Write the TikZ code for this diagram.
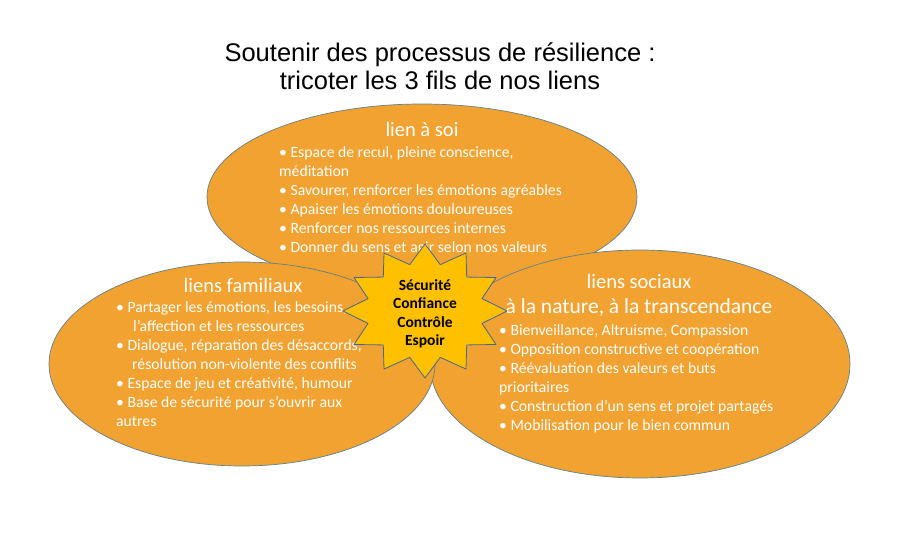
\documentclass[tikz,border=0pt]{standalone}
\usepackage{fontspec}
\setmainfont{Carlito}[BoldFont={Carlito Bold}]
\newfontfamily\titlefont{Liberation Sans}
\usetikzlibrary{calc}
\definecolor{orangefill}{RGB}{241,162,48}
\definecolor{orangeline}{RGB}{96,128,140}
\definecolor{sealfill}{RGB}{255,192,0}
\definecolor{sealline}{RGB}{68,104,150}
\tikzset{o/.style={fill=orangefill,draw=orangeline,line width=.7pt}}
\tikzset{seal/.style={fill=sealfill,draw=sealline,line width=.8pt}}
\tikzset{ttl/.style={font=\titlefont\fontsize{25.5}{28}\selectfont,align=center,anchor=base,inner sep=0}}
\tikzset{h/.style={text=white,font=\fontsize{20.5}{20}\selectfont,anchor=base,inner sep=0}}
% base west = baseline of the last line
\tikzset{b/.style={text=white,font=\fontsize{15.7}{19}\selectfont,align=left,anchor=base west,inner sep=0}}
\tikzset{c/.style={font=\bfseries\fontsize{15.5}{18.5}\selectfont,align=center,inner sep=0}}

\begin{document}
\begin{tikzpicture}[x=1pt,y=-1pt,line join=round]
\useasboundingbox[fill=white] (0,0) rectangle (900,534);
% titre
\node[ttl] (titre) at (440,90) {Soutenir des processus de résilience :\\tricoter les 3 fils de nos liens};
% lien a soi
\filldraw[o] (422,197) ellipse (215 and 93);
\node[h] (soi) at (422,137) {lien à soi};
\node[b] (soitxt) at (279,253) {• Espace de recul, pleine conscience,\\méditation\\• Savourer, renforcer les émotions agréables\\• Apaiser les émotions douloureuses\\• Renforcer nos ressources internes\\• Donner du sens et agir selon nos valeurs};
% liens sociaux
\filldraw[o] (640,364) ellipse (210 and 114);
\node[h] (soc) at (639,289) {liens sociaux};
\node[h,font=\fontsize{21.5}{20}\selectfont] (nat) at (639,314) {à la nature, à la transcendance};
\node[b] (soctxt) at (499,431) {• Bienveillance, Altruisme, Compassion\\• Opposition constructive et coopération\\• Réévaluation des valeurs et buts\\prioritaires\\• Construction d’un sens et projet partagés\\• Mobilisation pour le bien commun};
% liens familiaux
\filldraw[o] (242,364) ellipse (193 and 102);
\node[h] (fam) at (243,293) {liens familiaux};
\node[b] (famtxt) at (116,427) {• Partager les émotions, les besoins,\\\hspace*{17pt}l’affection et les ressources\\• Dialogue, réparation des désaccords,\\\hspace*{16pt}résolution non-violente des conflits\\• Espace de jeu et créativité, humour\\• Base de sécurité pour s’ouvrir aux\\autres};
% etoile a 12 branches
\begin{scope}[shift={(425,311)}]
\filldraw[seal] (90:82 and 67) \foreach \a in {90,120,...,420}{ -- (\a:82 and 67) -- (\a+15:59 and 48)} -- cycle;
\end{scope}
\node[c] (coeur) at (425,314) {Sécurité\\Confiance\\Contrôle\\Espoir};
\end{tikzpicture}
\end{document}
